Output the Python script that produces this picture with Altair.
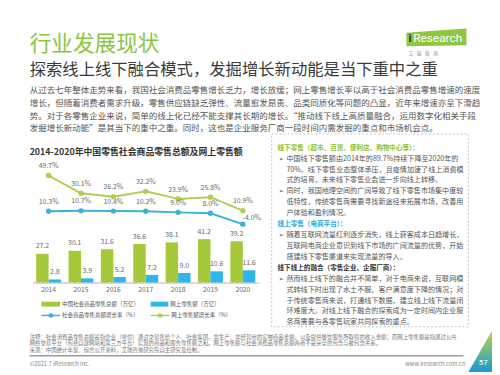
import altair as alt
import pandas as pd

# ---------------- data ----------------
years = ["2014", "2015", "2016", "2017", "2018", "2019", "2020"]
retail_total = [27.2, 30.1, 31.6, 36.6, 38.1, 41.2, 39.2]      # 中国社会商品零售总额（万亿）
online_retail = [2.8, 3.9, 5.2, 7.2, 9.0, 10.6, 11.6]          # 网上零售额（万亿）
total_growth = [10.3, 10.7, 10.4, 10.2, 9.0, 8.0, -4.0]        # 社会商品零售总额增长率（%）
online_growth = [49.7, 30.1, 26.2, 32.2, 23.9, 25.8, 10.9]     # 网上零售额增长率（%）

series_names = ["中国社会商品零售总额（万亿）", "网上零售额（万亿）",
                "社会商品零售总额增长率（%）", "网上零售额增长率（%）"]

title_text = "行业发展现状"
subtitle_text = "探索线上线下融合模式，发掘增长新动能是当下重中之重"
para_lines = [
    "从过去七年整体走势来看，我国社会消费品零售增长乏力，增长放缓；网上零售增长率以高于社会消费品零售增速的速度",
    "增长，但随着消费者需求升级，零售供应链缺乏弹性、流量愈发昂贵、品类同质化等问题的凸显，近年来增速亦呈下滑趋",
    "势。对于各零售企业来说，简单的线上化已经不能支撑其长期的增长。“推动线下线上高质量融合，运用数字化相关手段",
    "发掘增长新动能”是其当下的重中之重。同时，这也是企业服务厂商一段时间内需发掘的重点和市场机会点。",
]
chart_title = "2014-2020年中国零售社会商品零售总额及网上零售额"

header1 = "线下零售（超市、百货、便利店、购物中心等）："
body1a = ["中国线下零售额由2014年的89.7%持续下降至2020年的",
          "70%。线下零售业态整体承压，且疫情加速了线上消费模",
          "式的培育，未来线下零售业会进一步向线上转移。"]
body1b = ["同时，我国地理空间的广阔导致了线下零售市场集中度较",
          "低特性，传统零售商需要寻找新途径来拓展市场，改善用",
          "户体验和盈利情况。"]
header2 = "线上零售（电商平台）："
body2 = ["随着互联网流量红利逐步消失，线上获客成本日趋增长，",
         "互联网电商企业意识到线下市场的广阔流量的优势，开始",
         "搭建线下零售渠道来实现流量的导入。"]
header3 = "线下线上的融合（零售企业、企服厂商）："
body3 = ["然而线上线下的融合并不简单，对于电商来说，互联网模",
         "式转线下时出现了水土不服、客户满意度下降的情况；对",
         "于传统零售商来说，打通线下数据，建立线上线下流量闭",
         "环难度大。对线上线下融合的探索成为一定时间内企业服",
         "务商需要与各零售玩家共同探索的重点。"]
notes = [
    "注释：社会消费品零售总额是指企业（单位）通过交易售给个人、社会集团，非生产、非经营用的实物商品金额，以及提供餐饮服务所取得的收入金额；而网上零售额是指通过公共",
    "网络交易平台（包括自建网站和第三方平台）实现的商品和服务零售额之和。网上零售额与社会消费品零售总额两者不是完全的包含与被包含关系。",
    "来源：中国统计年鉴、综合公开资料，艾瑞咨询研究院自主研究及绘制。",
]
footer_left = "©2021.7 iResearch Inc."
footer_right = "www.iresearch.com.cn"
page_no = "57"
logo_sub = "艾\u00a0\u00a0\u00a0瑞\u00a0\u00a0\u00a0咨\u00a0\u00a0\u00a0询"

# ---------------- style / layout ----------------
CJK = "Noto Sans CJK SC"
GREEN = "#a6c83b"
BLUE = "#2fb5e8"
GREEN_L = "#b4cc50"
BLUE_L = "#3cb1d9"
TXT = "#555555"

X0, Y0 = 33, 160          # page position of plot area
W, H = 230, 124
PAD = {"left": X0 - 8, "top": Y0 - 8, "right": 492 - (X0 - 8) - W, "bottom": 367 - (Y0 - 8) - H}


def px(x):
    return x - X0


def py(y):
    return y - Y0


ONE = pd.DataFrame({"k": [0]})


def text_layer(txt, x, y, size, color, weight="normal", align="left", font=CJK, lh=None):
    kw = dict(font=font, fontSize=size, color=color, fontWeight=weight, align=align, baseline="middle")
    if lh is not None:
        kw.update(lineBreak="\n", lineHeight=lh)
    return alt.Chart(pd.DataFrame({"t": [txt]})).mark_text(**kw).encode(
        text="t:N", x=alt.value(px(x)), y=alt.value(py(y)))


def rect_layer(x1, x2, y1, y2, **kw):
    return alt.Chart(ONE).mark_rect(**kw).encode(
        x=alt.value(px(x1)), x2=alt.value(px(x2)), y=alt.value(py(y1)), y2=alt.value(py(y2)))


def rule_layer(x1, x2, y, color, width):
    return alt.Chart(ONE).mark_rule(color=color, strokeWidth=width).encode(
        x=alt.value(px(x1)), x2=alt.value(px(x2)), y=alt.value(py(y)))


def dot_layer(x, y, color, size=22):
    return alt.Chart(ONE).mark_point(filled=True, color=color, size=size, opacity=1).encode(
        x=alt.value(px(x)), y=alt.value(py(y)))


# ---------------- chart data ----------------
bars_df = pd.DataFrame({
    "year": years * 2,
    "series": [series_names[0]] * 7 + [series_names[1]] * 7,
    "value": retail_total + online_retail,
})
bars_df["label"] = bars_df["value"].map(lambda v: f"{v:.1f}")

lines_df = pd.DataFrame({
    "year": years * 2,
    "series": [series_names[2]] * 7 + [series_names[3]] * 7,
    "value": total_growth + online_growth,
})
lines_df["label"] = lines_df["value"].map(lambda v: f"{v:.1f}%")

color_scale = alt.Scale(domain=series_names, range=[GREEN, BLUE, BLUE_L, GREEN_L])
x_enc = alt.X("year:O", scale=alt.Scale(domain=years, paddingInner=0.23, paddingOuter=0.11),
              axis=alt.Axis(title=None, ticks=False, labelAngle=0, labelFontSize=6.8, labelColor="#666",
                            labelFont=CJK, labelPadding=4, domainColor="#b0b0b0", grid=False))
y_bar = alt.Y("value:Q", scale=alt.Scale(domain=[0, 115.9], nice=False, zero=True), axis=None)
y_line = alt.Y("value:Q", scale=alt.Scale(domain=[-68.5, 66.3], nice=False, zero=False), axis=None)
x_off = alt.XOffset("series:N", scale=alt.Scale(domain=series_names[:2], paddingInner=0, paddingOuter=0))
c_enc = alt.Color("series:N", scale=color_scale, legend=None)

bars = alt.Chart(bars_df).mark_bar().encode(x=x_enc, xOffset=x_off, y=y_bar, color=c_enc)
bar_labels = alt.Chart(bars_df).mark_text(font=CJK, fontSize=7, color="#666", dy=-7.5, baseline="middle").encode(
    x=x_enc, xOffset=x_off, y=y_bar, text="label:N")

lines = alt.Chart(lines_df).mark_line(strokeWidth=2).encode(x=x_enc, y=y_line, color=c_enc)
points = alt.Chart(lines_df).mark_point(filled=True, size=30, opacity=1).encode(x=x_enc, y=y_line, color=c_enc)
line_labels = alt.Chart(lines_df).transform_filter(
    (alt.datum.year != "2020") | (alt.datum.series == series_names[3])
).mark_text(font=CJK, fontSize=7, color="#666", dy=-9.5, baseline="middle").encode(
    x=x_enc, y=y_line, text="label:N")
last_label = alt.Chart(lines_df).transform_filter(
    (alt.datum.year == "2020") & (alt.datum.series == series_names[2])
).mark_text(font=CJK, fontSize=7, color="#666", dx=9, dy=-6, baseline="middle").encode(
    x=x_enc, y=y_line, text="label:N")

# ---------------- annotations ----------------
ann = []
ann.append(text_layer(title_text, 30, 41.5, 22, "#8cc63e"))
ann.append(text_layer(subtitle_text, 30, 68, 16.6, "#3a3a3a"))
ann.append(text_layer("\n".join(para_lines), 30, 88.5, 8.65, TXT, lh=13))
ann.append(text_layer(chart_title, 30, 151.5, 9, "#333333", weight="bold"))

# dashed box on the right
ann.append(rect_layer(276, 476, 133, 329, fill="transparent", stroke="#c4c4c4", strokeDash=[2, 2], strokeWidth=1))
RY0, RLH = 147, 11.1


def ry(i):
    return RY0 + RLH * i


ann.append(text_layer(header1, 282, ry(0), 6.7, "#8dc21f", weight="bold"))
ann.append(text_layer("\n".join(body1a), 291, ry(1), 7.2, TXT, lh=RLH))
ann.append(text_layer("\n".join(body1b), 291, ry(4), 7.2, TXT, lh=RLH))
ann.append(text_layer(header2, 282, ry(7), 6.7, "#1ea7e0", weight="bold"))
ann.append(text_layer("\n".join(body2), 291, ry(8), 7.2, TXT, lh=RLH))
ann.append(text_layer(header3, 282, ry(11), 6.7, "#333333", weight="bold"))
ann.append(text_layer("\n".join(body3), 291, ry(12), 7.2, TXT, lh=RLH))
for i in (1, 4, 8, 12):
    ann.append(text_layer("➢", 283, ry(i), 6.5, "#666666", font="DejaVu Sans"))

# legend
LY1, LY2 = 306, 317.5
ann.append(rect_layer(42, 61, LY1 - 2.5, LY1 + 2.5, color=GREEN))
ann.append(text_layer(series_names[0], 63, LY1, 5.6, TXT))
ann.append(rect_layer(153, 171, LY1 - 2.5, LY1 + 2.5, color=BLUE))
ann.append(text_layer(series_names[1], 173, LY1, 5.6, TXT))
ann.append(rule_layer(42, 61, LY2, BLUE_L, 1.5))
ann.append(dot_layer(51.5, LY2, BLUE_L))
ann.append(text_layer(series_names[2], 63, LY2, 5.6, TXT))
ann.append(rule_layer(153, 172, LY2, GREEN_L, 1.5))
ann.append(dot_layer(162.5, LY2, GREEN_L))
ann.append(text_layer(series_names[3], 174, LY2, 5.6, TXT))

# notes and footer
for i, line in enumerate(notes):
    ann.append(text_layer(line, 30, 339 + 7 * i, 5.5, "#777777"))
ann.append(rule_layer(30, 471, 358.5, "#9b9b9b", 1.5))
ann.append(text_layer(footer_left, 30, 367, 5.8, "#888888"))
ann.append(text_layer(footer_right, 473, 367, 5.8, "#888888", align="right"))

# logo
logo_path = "M-1,-0.16 L1,-0.3 L1,0.26 L-1,0.29 Z"
ann.append(alt.Chart(ONE).mark_point(shape=logo_path, filled=True, color="#8dc63f", size=61 * 61, opacity=1,
                                     strokeWidth=0).encode(x=alt.value(px(443.5)), y=alt.value(py(35))))
ann.append(text_layer("i", 415, 35.5, 12, "#333333", font="Roboto", weight="bold"))
ann.append(text_layer("Research", 420, 35.5, 12, "white", font="Roboto"))
ann.append(text_layer(logo_sub, 415, 51, 5, "#888888"))

# corner triangle with page number
tri_path = "M-0.5,0.875 L0.5,-0.875 L0.5,0.875 Z"
ann.append(alt.Chart(ONE).mark_point(
    shape=tri_path, filled=True, size=48 * 48, opacity=1, strokeWidth=0,
    fill=alt.LinearGradient(gradient="linear", x1=0, y1=0, x2=0, y2=1,
                            stops=[alt.GradientStop(offset=0, color="#b9d64a"),
                                   alt.GradientStop(offset=1, color="#1b98d5")])
).encode(x=alt.value(px(488)), y=alt.value(py(354))))
ann.append(text_layer(page_no, 491, 366, 8, "white", align="center", font="Roboto"))

chart = alt.layer(bars, bar_labels, lines, points, line_labels, last_label, *ann).resolve_scale(
    y="independent"
).properties(
    width=W, height=H, padding=PAD, autosize=alt.AutoSizeParams(type="none"), background="white"
).configure_view(stroke=None)

chart.save("out.html", embed_options={"renderer": "svg", "actions": False})
